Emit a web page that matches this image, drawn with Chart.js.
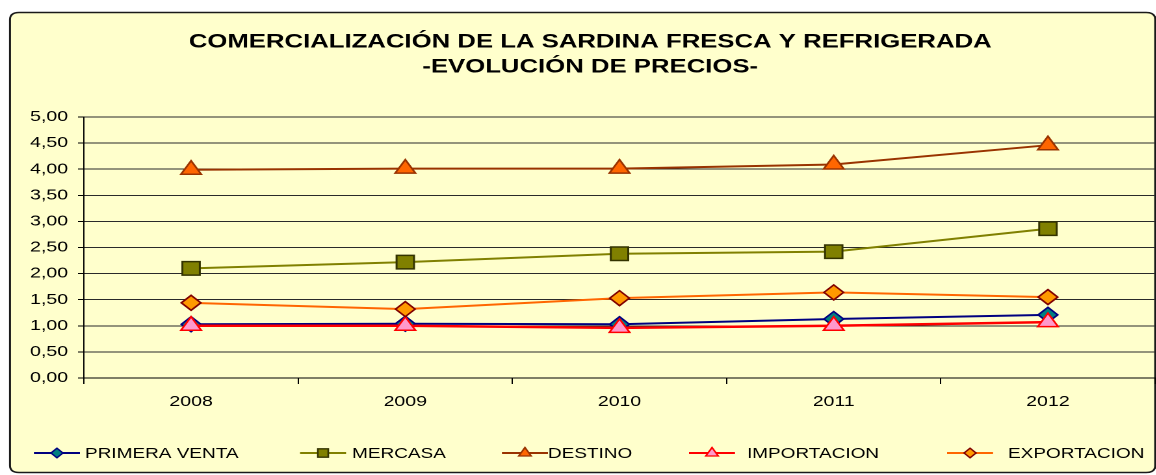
<!DOCTYPE html>
<html>
<head>
<meta charset="utf-8">
<title>Comercialización de la sardina fresca y refrigerada</title>
<script src="https://cdn.jsdelivr.net/npm/chart.js@4"></script>
<style>
  html, body { margin: 0; padding: 0; background: #ffffff; overflow: hidden; }
  #wrap { width: 1156px; height: 475px; overflow: hidden; position: relative; }
  /* the chart is laid out on a narrower canvas and widened horizontally */
  #c { position: absolute; left: 0; top: 0; transform: scaleX(1.3); transform-origin: 0 0; }
</style>
</head>
<body>
<div id="wrap"><canvas id="c" width="889" height="475"></canvas></div>
<script>
// ---- data -------------------------------------------------------------
const YEARS = ['2008', '2009', '2010', '2011', '2012'];

const PRIMERA_VENTA = [1.03, 1.04, 1.03, 1.13, 1.21];
const MERCASA       = [2.10, 2.22, 2.38, 2.42, 2.86];
const DESTINO       = [3.99, 4.01, 4.01, 4.09, 4.46];
const IMPORTACION   = [1.00, 1.00, 0.96, 1.00, 1.07];
const EXPORTACION   = [1.44, 1.32, 1.53, 1.64, 1.55];

const SERIES_NAMES = ['PRIMERA VENTA', 'MERCASA', 'DESTINO', 'IMPORTACION', 'EXPORTACION'];

const TITLE_LINES = [
  'COMERCIALIZACIÓN DE LA SARDINA FRESCA Y REFRIGERADA',
  '-EVOLUCIÓN DE PRECIOS-'
];

const Y_MIN = 0, Y_MAX = 5, Y_STEP = 0.5;

// ---- styling ----------------------------------------------------------
const FONT = '"Liberation Sans", Arial, Helvetica, sans-serif';

const STYLES = [
  { line: '#000080', fill: '#008080', edge: '#000080', shape: 'rectRot',  r: 7.5, lw: 2 },
  { line: '#808000', fill: '#808000', edge: '#333300', shape: 'rect',     r: 9.5, lw: 2 },
  { line: '#993300', fill: '#FF6600', edge: '#993300', shape: 'triangle', r: 9,   lw: 2 },
  { line: '#FF0000', fill: '#FF99CC', edge: '#FF0000', shape: 'triangle', r: 9,   lw: 2.5 },
  { line: '#FF6600', fill: '#FF9900', edge: '#800000', shape: 'rectRot',  r: 7.5, lw: 2 }
];
// later series are painted on top of earlier ones
const DRAW_ORDER = [5, 4, 3, 2, 1];

// title placement (canvas units)
const TITLE_X = 454;
const TITLE_Y = [42, 67];

// legend item positions (canvas units)
const LEGEND_Y = 453;
const LEGEND_MARK_X = [43.8, 248.5, 403.8, 547.7, 746.2];
const LEGEND_TEXT_X = [65.4, 270.8, 421.5, 574.6, 775.4];
const LEGEND_HALF_LINE = 17.7;

const VALUES = [PRIMERA_VENTA, MERCASA, DESTINO, IMPORTACION, EXPORTACION];

const datasets = SERIES_NAMES.map((name, i) => ({
  label: name,
  data: VALUES[i],
  borderColor: STYLES[i].line,
  borderWidth: STYLES[i].lw,
  backgroundColor: STYLES[i].fill,
  pointStyle: STYLES[i].shape,
  pointRadius: STYLES[i].r,
  pointHoverRadius: STYLES[i].r,
  pointBackgroundColor: STYLES[i].fill,
  pointBorderColor: STYLES[i].edge,
  pointBorderWidth: 1.5,
  tension: 0,
  fill: false,
  order: DRAW_ORDER[i]
}));

// ---- plugins ----------------------------------------------------------
function roundRect(ctx, x, y, w, h, r) {
  ctx.beginPath();
  ctx.moveTo(x + r, y);
  ctx.lineTo(x + w - r, y);
  ctx.quadraticCurveTo(x + w, y, x + w, y + r);
  ctx.lineTo(x + w, y + h - r);
  ctx.quadraticCurveTo(x + w, y + h, x + w - r, y + h);
  ctx.lineTo(x + r, y + h);
  ctx.quadraticCurveTo(x, y + h, x, y + h - r);
  ctx.lineTo(x, y + r);
  ctx.quadraticCurveTo(x, y, x + r, y);
  ctx.closePath();
}

const framePlugin = {
  id: 'frame',
  beforeDraw(chart) {
    const ctx = chart.ctx;
    ctx.save();
    ctx.fillStyle = '#ffffff';
    ctx.fillRect(0, 0, chart.width, chart.height);
    roundRect(ctx, 7.7, 12.5, chart.width - 8.1, 460, 7);
    ctx.fillStyle = '#FFFFCC';
    ctx.fill();
    ctx.lineWidth = 1.5;
    ctx.strokeStyle = '#1a1a1a';
    ctx.stroke();

    // two-line heading
    ctx.fillStyle = '#000000';
    ctx.font = 'bold 19.8px ' + FONT;
    ctx.textAlign = 'center';
    ctx.textBaseline = 'middle';
    TITLE_LINES.forEach((t, k) => ctx.fillText(t, TITLE_X, TITLE_Y[k]));
    ctx.restore();
  }
};

function legendMarker(ctx, shape, x, y) {
  ctx.beginPath();
  if (shape === 'rectRot') {
    ctx.moveTo(x - 4.6, y);
    ctx.lineTo(x, y - 4.8);
    ctx.lineTo(x + 4.6, y);
    ctx.lineTo(x, y + 4.8);
  } else if (shape === 'rect') {
    ctx.rect(x - 4, y - 4.2, 8, 8.4);
  } else {
    ctx.moveTo(x, y - 5.5);
    ctx.lineTo(x + 4.8, y + 3);
    ctx.lineTo(x - 4.8, y + 3);
  }
  ctx.closePath();
}

const legendPlugin = {
  id: 'lineLegend',
  afterDraw(chart) {
    const ctx = chart.ctx;
    ctx.save();
    chart.data.datasets.forEach((ds, i) => {
      const cx = LEGEND_MARK_X[i];
      ctx.strokeStyle = ds.borderColor;
      ctx.lineWidth = 2;
      ctx.beginPath();
      ctx.moveTo(cx - LEGEND_HALF_LINE, LEGEND_Y);
      ctx.lineTo(cx + LEGEND_HALF_LINE, LEGEND_Y);
      ctx.stroke();
      legendMarker(ctx, ds.pointStyle, cx, LEGEND_Y);
      ctx.fillStyle = ds.pointBackgroundColor;
      ctx.fill();
      ctx.lineWidth = 1.3;
      ctx.strokeStyle = ds.pointBorderColor;
      ctx.stroke();
      ctx.fillStyle = '#000000';
      ctx.font = '14.6px ' + FONT;
      ctx.textAlign = 'left';
      ctx.textBaseline = 'middle';
      ctx.fillText(ds.label, LEGEND_TEXT_X[i], LEGEND_Y + 1);
    });
    ctx.restore();
  }
};

// ---- chart ------------------------------------------------------------
new Chart(document.getElementById('c'), {
  type: 'line',
  data: { labels: YEARS, datasets },
  options: {
    responsive: false,
    devicePixelRatio: 2,
    animation: false,
    events: [],
    layout: {
      autoPadding: false,
      padding: { top: 117, left: 0, right: 0.5, bottom: 57 }
    },
    plugins: {
      legend: { display: false },
      tooltip: { enabled: false },
      title: { display: false }
    },
    scales: {
      x: {
        type: 'category',
        offset: true,
        afterFit(scale) {
          scale.height = 40;
          scale.paddingLeft = 0;
          scale.paddingRight = 0;
        },
        grid: {
          display: true,
          drawOnChartArea: false,
          drawTicks: true,
          tickLength: 6,
          offset: true,
          color: '#000000',
          lineWidth: 1
        },
        border: { display: true, color: '#000000', width: 1 },
        ticks: {
          color: '#000000',
          font: { family: FONT, size: 15 },
          padding: 9,
          maxRotation: 0
        }
      },
      y: {
        min: Y_MIN,
        max: Y_MAX,
        afterFit(scale) { scale.width = 64.6; },
        grid: {
          color: '#2a2a2a',
          lineWidth: 1,
          drawTicks: true,
          tickLength: 4.6,
          tickColor: '#000000'
        },
        border: { display: true, color: '#000000', width: 1 },
        ticks: {
          stepSize: Y_STEP,
          color: '#000000',
          font: { family: FONT, size: 15 },
          padding: 7.7,
          callback: (v) => Number(v).toFixed(2).replace('.', ',')
        }
      }
    }
  },
  plugins: [framePlugin, legendPlugin]
});
</script>
</body>
</html>
